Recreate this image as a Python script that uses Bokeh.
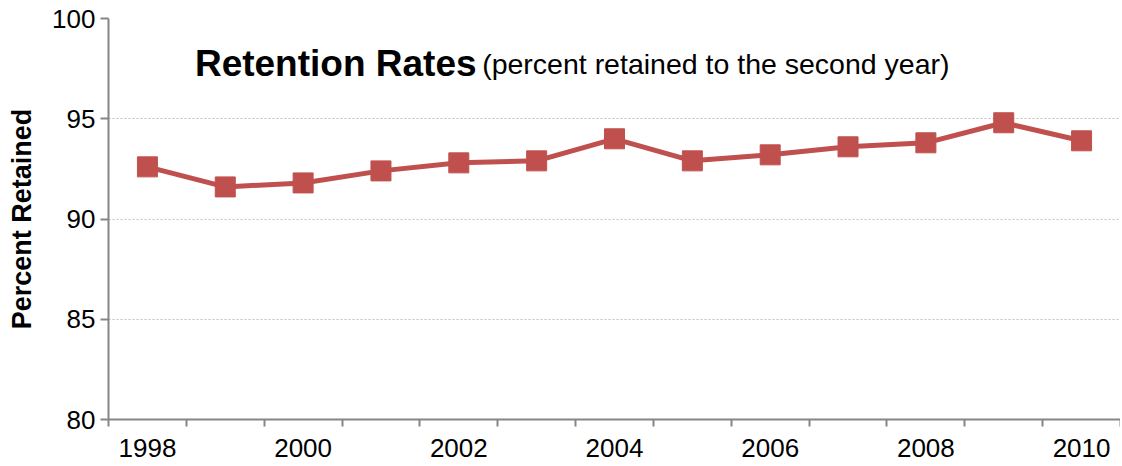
from bokeh.plotting import figure
from bokeh.models import FixedTicker, Label, Range1d
from bokeh.embed import file_html
from bokeh.resources import INLINE

years = [1998, 1999, 2000, 2001, 2002, 2003, 2004, 2005, 2006, 2007, 2008, 2009, 2010]
retained = [92.6, 91.6, 91.8, 92.4, 92.8, 92.9, 94.0, 92.9, 93.2, 93.6, 93.8, 94.8, 93.9]
y_ticks = [80, 85, 90, 95, 100]
title_main = "Retention Rates"
title_sub = "(percent retained to the second year)"
y_label = "Percent Retained"

FONT = "Liberation Sans"
RED = "#C0504D"
AXIS = "#868686"

idx = list(range(len(years)))

p = figure(width=1120, height=464, output_backend="svg", toolbar_location=None,
           x_range=Range1d(-0.5, len(years) - 0.5), y_range=Range1d(80, 100),
           min_border_left=108, min_border_right=0, min_border_top=18, min_border_bottom=45)
p.outline_line_color = None
p.background_fill_color = "white"
p.border_fill_color = "white"

# grid
p.xgrid.grid_line_color = None
p.ygrid.ticker = FixedTicker(ticks=y_ticks[1:])
p.ygrid.grid_line_color = "#BEBEBE"
p.ygrid.grid_line_dash = "2 2"
p.ygrid.grid_line_width = 1

# x axis: labels every other year, ticks at category boundaries
label_idx = [i for i in idx if years[i] % 2 == 0]
boundaries = [i - 0.5 for i in range(len(years) + 1)]
p.xaxis.ticker = FixedTicker(ticks=label_idx, minor_ticks=boundaries)
p.xaxis.major_label_overrides = {i: str(years[i]) for i in label_idx}
p.xaxis.major_tick_out = 0
p.xaxis.major_tick_in = 0
p.xaxis.minor_tick_out = 7
p.xaxis.minor_tick_in = 0
p.xaxis.minor_tick_line_color = AXIS
p.xaxis.minor_tick_line_width = 2
p.xaxis.axis_line_color = AXIS
p.xaxis.axis_line_width = 2
p.xaxis.major_label_standoff = 12
p.xaxis.major_label_text_font = FONT
p.xaxis.major_label_text_font_size = "26px"
p.xaxis.major_label_text_color = "black"

# y axis
p.yaxis.ticker = FixedTicker(ticks=y_ticks)
p.yaxis.minor_tick_line_color = None
p.yaxis.major_tick_out = 8
p.yaxis.major_tick_in = 0
p.yaxis.major_tick_line_color = AXIS
p.yaxis.major_tick_line_width = 2
p.yaxis.axis_line_color = AXIS
p.yaxis.axis_line_width = 2
p.yaxis.major_label_standoff = 5
p.yaxis.major_label_text_font = FONT
p.yaxis.major_label_text_font_size = "26px"
p.yaxis.major_label_text_color = "black"
p.yaxis.axis_label = y_label
p.yaxis.axis_label_text_font = FONT
p.yaxis.axis_label_text_font_size = "27px"
p.yaxis.axis_label_text_font_style = "bold"
p.yaxis.axis_label_text_color = "black"
p.yaxis.axis_label_standoff = 12

# data
p.line(idx, retained, line_color=RED, line_width=5)
p.scatter(idx, retained, marker="square", size=20, fill_color=RED, line_color=RED)

# title inside plot
p.add_layout(Label(x=0.61, y=97.75, text=title_main, text_font=FONT, text_font_size="37px",
                   text_font_style="bold", text_color="black", text_baseline="alphabetic",
                   text_align="left"))
p.add_layout(Label(x=4.3, y=97.75, text=title_sub, text_font=FONT, text_font_size="28.5px",
                   text_color="black", text_baseline="alphabetic", text_align="left"))

open("out.html", "w").write(file_html(p, INLINE))
